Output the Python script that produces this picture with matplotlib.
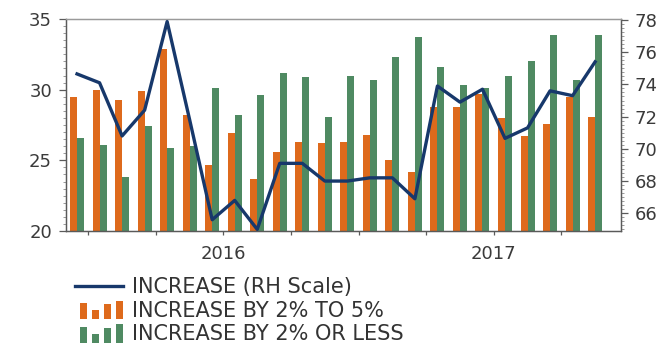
import matplotlib
matplotlib.use("Agg")
import matplotlib.pyplot as plt
import numpy as np
from matplotlib.patches import Rectangle
from matplotlib.lines import Line2D
from matplotlib.legend_handler import HandlerBase
from matplotlib.ticker import MultipleLocator

plt.rcParams['font.family'] = ['DejaVu Sans']

# Monthly series, Jun 2015 - May 2017
months = list(range(24))
increase_2_to_5 = [29.5, 30.0, 29.3, 29.9, 32.9, 28.2, 24.7, 26.9, 23.7, 25.6, 26.3, 26.2,
                   26.3, 26.8, 25.0, 24.2, 28.8, 28.8, 29.7, 28.0, 26.7, 27.6, 29.5, 28.1]
increase_2_or_less = [26.6, 26.1, 23.8, 27.4, 25.9, 26.0, 30.1, 28.2, 29.6, 31.2, 30.9, 28.1,
                      31.0, 30.7, 32.3, 33.7, 31.6, 30.3, 30.1, 31.0, 32.0, 33.9, 30.7, 33.9]
increase_total = [74.65, 74.1, 70.8, 72.4, 77.9, 71.8, 65.6, 66.8, 65.0, 69.1, 69.1, 68.0,
                  68.0, 68.2, 68.2, 66.9, 73.9, 72.9, 73.7, 70.65, 71.3, 73.6, 73.3, 75.4]
tick_positions = [0.5, 3.5, 6.5, 9.5, 12.5, 15.5, 18.5, 21.5]
tick_labels = ['', '', '2016', '', '', '', '2017', '']

ORANGE = '#DE6A1C'
GREEN = '#4F8A62'
NAVY = '#17386B'
GREY = '#5a5a5a'
FS = 13
LEGEND_FS = 15

fig = plt.figure(figsize=(6.61, 3.44), dpi=100)
ax = fig.add_axes([66/661, 1-231/344, (621-66)/661, (231-19)/344])

x = np.array(months)
w = 0.31
ax.bar(x - w/2, increase_2_to_5, width=w, color=ORANGE, label='INCREASE BY 2% TO 5%', zorder=2)
ax.bar(x + w/2, increase_2_or_less, width=w, color=GREEN, label='INCREASE BY 2% OR LESS', zorder=2)
ax.set_ylim(20, 35)
ax.set_xlim(-0.49, 24.15)

ax2 = ax.twinx()
ax2.plot(x, increase_total, color=NAVY, lw=2.4, label='INCREASE (RH Scale)', zorder=3)
ax2.set_ylim(64.9, 78.06)

# axes styling
for a in (ax, ax2):
    for s in a.spines.values():
        s.set_color(GREY)
        s.set_linewidth(0.9)
    a.spines['top'].set_color('#9a9a9a')

ax.yaxis.set_major_locator(MultipleLocator(5))
ax.yaxis.set_minor_locator(MultipleLocator(0.5))
ax2.set_yticks([66, 68, 70, 72, 74, 76, 78])
ax2.yaxis.set_minor_locator(MultipleLocator(0.25))

ax.tick_params(axis='y', which='major', length=5, width=0.9, color=GREY, pad=5,
               labelsize=FS, labelcolor='#3a3a3a')
ax.tick_params(axis='y', which='minor', length=2, width=0.6, color='#8a8a8a')
ax2.tick_params(axis='y', which='major', length=5, width=0.9, color=GREY, pad=5,
                labelsize=FS, labelcolor='#3a3a3a')
ax2.tick_params(axis='y', which='minor', length=2, width=0.6, color='#8a8a8a')

ax.set_xticks(tick_positions)
ax.set_xticklabels(tick_labels)
ax.tick_params(axis='x', which='major', length=3, width=0.9, color=GREY, pad=7,
               labelsize=FS, labelcolor='#3a3a3a')


class HandlerMiniBars(HandlerBase):
    """Legend key drawn as a row of four small bars."""
    def __init__(self, color, heights=(0.85, 0.5, 0.8, 1.0)):
        super().__init__()
        self.color = color
        self.heights = heights

    def create_artists(self, legend, orig_handle, xdescent, ydescent,
                       width, height, fontsize, trans):
        n = len(self.heights)
        slot = width / n
        bw = slot * 0.6
        artists = []
        full = height * 1.3
        base = -ydescent - 0.2 * height
        for i, h in enumerate(self.heights):
            r = Rectangle((-xdescent + i * slot + (slot - bw), base),
                          bw, full * h, facecolor=self.color, edgecolor='none',
                          transform=trans)
            artists.append(r)
        return artists


h_line = Line2D([], [], color=NAVY, lw=2.4)
h_or = Rectangle((0, 0), 1, 1, color=ORANGE)
h_gr = Rectangle((0, 0), 1, 1, color=GREEN)

fig.legend([h_line, h_or, h_gr],
           ['INCREASE (RH Scale)', 'INCREASE BY 2% TO 5%', 'INCREASE BY 2% OR LESS'],
           handler_map={h_or: HandlerMiniBars(ORANGE), h_gr: HandlerMiniBars(GREEN)},
           loc='upper left', bbox_to_anchor=(75/661, 1-277/344),
           frameon=False, fontsize=LEGEND_FS, handlelength=2.3, handletextpad=0.43,
           labelspacing=0.17, borderpad=0, borderaxespad=0, labelcolor='#333333')

fig.savefig('out.png', dpi=100)
